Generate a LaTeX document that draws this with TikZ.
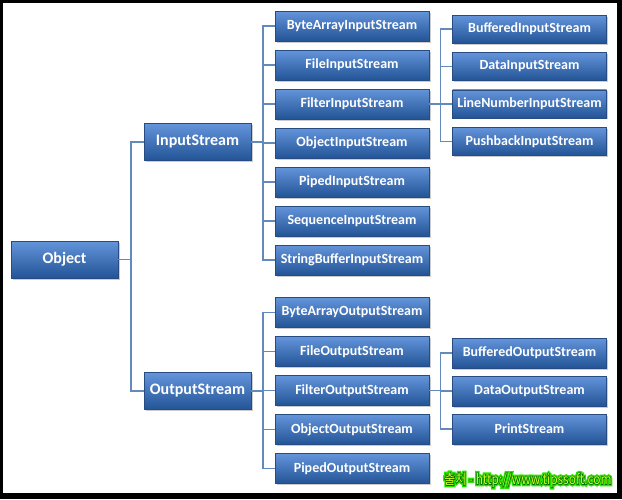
\documentclass[tikz,border=0pt]{standalone}
\usepackage{fontspec}
\setmainfont{Carlito}
\newfontfamily\krfont{Noto Sans CJK KR}
\newfontfamily\krhalo[FakeBold=30]{Noto Sans CJK KR}
\newfontfamily\krrim[FakeBold=10]{Noto Sans CJK KR}
\usetikzlibrary{positioning, calc, shadows}
\definecolor{boxtop}{RGB}{100,148,218}
\definecolor{boxbot}{RGB}{34,84,150}
\definecolor{boxline}{RGB}{38,76,130}
\definecolor{wirecol}{RGB}{98,138,188}
\definecolor{halo}{RGB}{40,230,0}
\definecolor{rim}{RGB}{0,110,0}
\definecolor{wmfill}{RGB}{200,255,40}
\tikzset{
  cls/.style={draw=boxline, line width=0.6pt, top color=boxtop, bottom color=boxbot,
    text=white, font=\bfseries\fontsize{14}{14}\selectfont, inner sep=0pt,
    minimum width=154pt, minimum height=30pt,
    drop shadow={shadow xshift=1.5pt, shadow yshift=-1.5pt, opacity=0.4}},
  basecls/.style={cls, font=\bfseries\fontsize{16}{16}\selectfont,
    minimum width=107pt, minimum height=37pt},
  elbow/.style={to path={-| ($(\tikztostart)!.5!(\tikztotarget)$) |- (\tikztotarget)}},
  wire/.style={draw=wirecol, line width=1.4pt},
  wm/.style={inner sep=0pt}
}
\newcommand\wmtext[1]{{#1\fontsize{14}{14}\selectfont\scalebox{0.85}[1]{출처 - http://www.tipssoft.com}}}
\begin{document}
\begin{tikzpicture}[x=1pt, y={(0pt,-1pt)}]
% frame
\fill[black] (0,0) rectangle (622,499);
\fill[white] (3,3) rectangle (617,493);

% root and the two base classes
\node[basecls] (obj) at (64.5,259.5) {Object};
\node[basecls] (ins) at (197.5,142) {InputStream};
\node[basecls] (outs) at (197.5,391) {OutputStream};

% input classes
\foreach \name [count=\i] in {ByteArrayInputStream, FileInputStream, FilterInputStream,
    ObjectInputStream, PipedInputStream, SequenceInputStream, StringBufferInputStream}
  \node[cls] (in\i) at (352,{26+39*(\i-1)}) {\name};
\foreach \name [count=\i] in {BufferedInputStream, DataInputStream,
    LineNumberInputStream, PushbackInputStream}
  \node[cls, minimum height=28pt] (fin\i) at (529.5,{29+37.4*(\i-1)}) {\name};

% output classes
\foreach \name [count=\i] in {ByteArrayOutputStream, FileOutputStream, FilterOutputStream,
    ObjectOutputStream, PipedOutputStream}
  \node[cls] (out\i) at (352,{312.5+39*(\i-1)}) {\name};
\foreach \name [count=\i] in {BufferedOutputStream, DataOutputStream, PrintStream}
  \node[cls] (fout\i) at (529.5,{353+38*(\i-1)}) {\name};

% connectors
\draw[wire] (obj.east) to[elbow] (ins.west) (obj.east) to[elbow] (outs.west);
\foreach \i in {1,...,7} \draw[wire] (ins.east) to[elbow] (in\i.west);
\foreach \i in {1,...,4} \draw[wire] (in3.east) to[elbow] (fin\i.west);
\foreach \i in {1,...,5} \draw[wire] (outs.east) to[elbow] (out\i.west);
\foreach \i in {1,...,3} \draw[wire] (out3.east) to[elbow] (fout\i.west);

% source mark
\node[wm, text=halo] (glow) at (528,480) {\wmtext{\krhalo}};
\node[wm, text=rim] (rim) at (528,480) {\wmtext{\krrim}};
\node[wm, text=wmfill] (src) at (528,480) {\wmtext{\krfont}};
\end{tikzpicture}
\end{document}
